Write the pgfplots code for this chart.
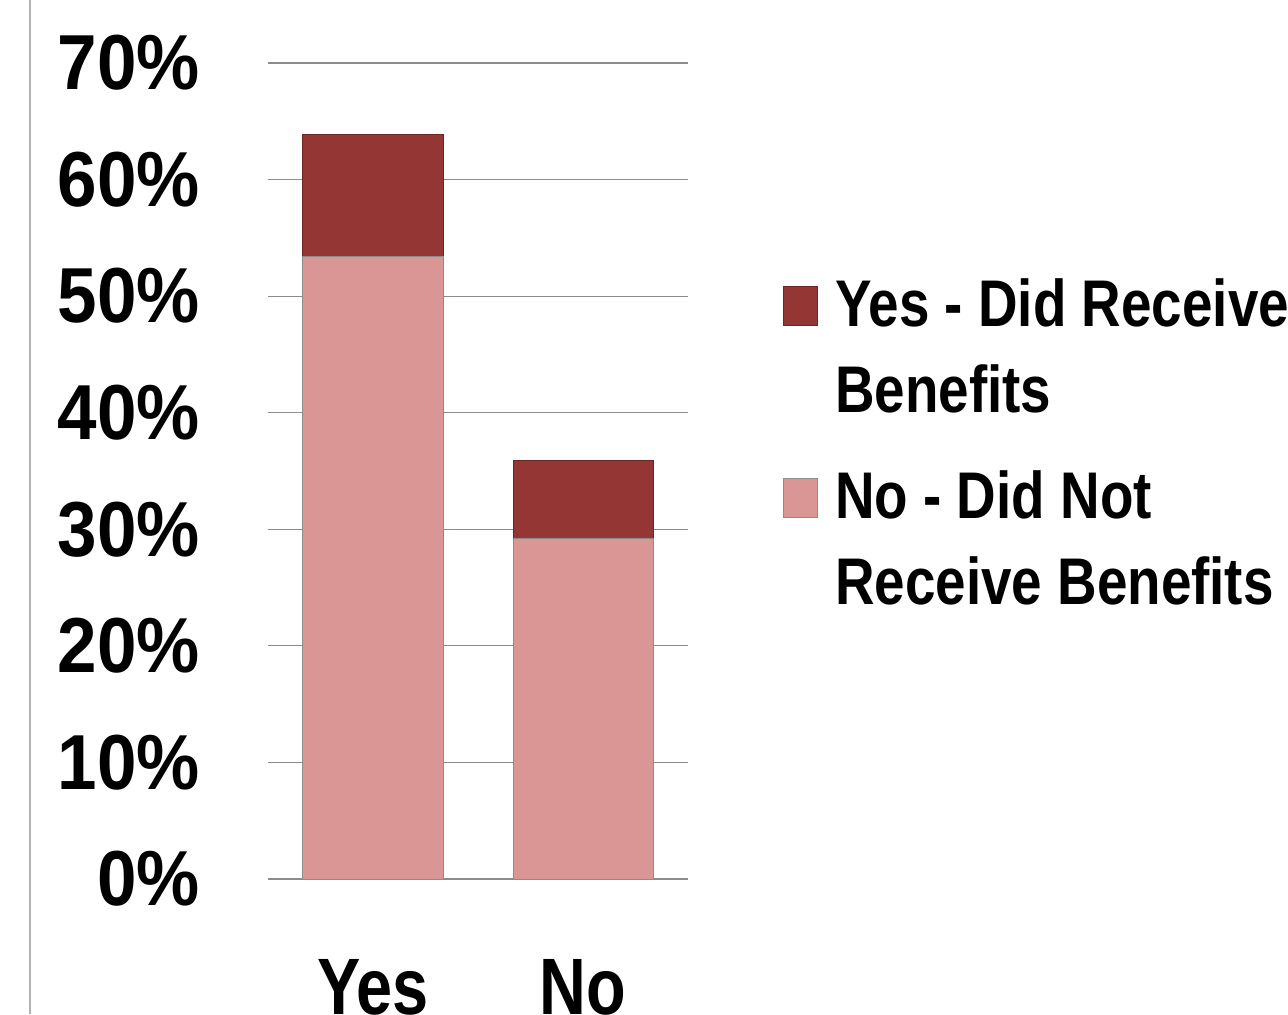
\documentclass[border=0pt]{standalone}
\usepackage{pgfplots}
\pgfplotsset{compat=1.18}
\usepackage{fontspec}
\setmainfont{Liberation Sans}
\newfontfamily\tickfont[FakeStretch=0.91]{Liberation Sans}
\newfontfamily\catfont[FakeStretch=0.81]{Liberation Sans}
\newfontfamily\legfont[FakeStretch=0.83]{Liberation Sans}
\definecolor{darkred}{HTML}{943634}
\definecolor{lightred}{HTML}{DA9694}
\definecolor{gridgray}{HTML}{8C8C8C}
\begin{document}
\begin{tikzpicture}
\useasboundingbox (0pt,0pt) rectangle (644pt,507pt);
\draw[black!30, line width=0.6pt] (15pt,0pt) -- (15pt,507pt);
\begin{axis}[
  at={(134pt,67.5pt)}, anchor=south west,
  scale only axis, width=210pt, height=408pt,
  ybar stacked, bar width=0.6667,
  xmin=-0.5, xmax=1.5, ymin=0, ymax=70,
  xtick={0,1}, xticklabels={Yes,No},
  ytick={0,10,20,30,40,50,60,70},
  yticklabels={0\%,10\%,20\%,30\%,40\%,50\%,60\%,70\%},
  axis line style={draw=none},
  major tick length=0pt,
  ymajorgrids, major grid style={gridgray, line width=0.6pt},
  yticklabel style={font=\tickfont\bfseries\fontsize{39}{39}\selectfont, anchor=east, inner sep=0pt, xshift=-34pt},
  xticklabel style={font=\catfont\bfseries\fontsize{40}{40}\selectfont, anchor=base, inner sep=0pt, yshift=-67.5pt},
  reverse legend,
  legend style={at={(1.226,0.741)}, anchor=north west, draw=none, fill=none, inner sep=0pt,
    font=\legfont\bfseries\fontsize{33}{43}\selectfont, row sep=23.5pt, column sep=6.5pt,
    cells={align=left, anchor=west}},
  legend image code/.code={\draw[#1] (0pt,10.75pt) rectangle (17pt,30.25pt);},
]
\addplot[fill=lightred, draw=black!45, line width=0.5pt] coordinates {(0,53.4) (1,29.2)};
\addlegendentry{No - Did Not\\Receive Benefits}
\addplot[fill=darkred, draw=darkred!70!black, line width=0.5pt] coordinates {(0,10.5) (1,6.7)};
\addlegendentry{Yes - Did Receive\\Benefits}
\end{axis}
\end{tikzpicture}
\end{document}
